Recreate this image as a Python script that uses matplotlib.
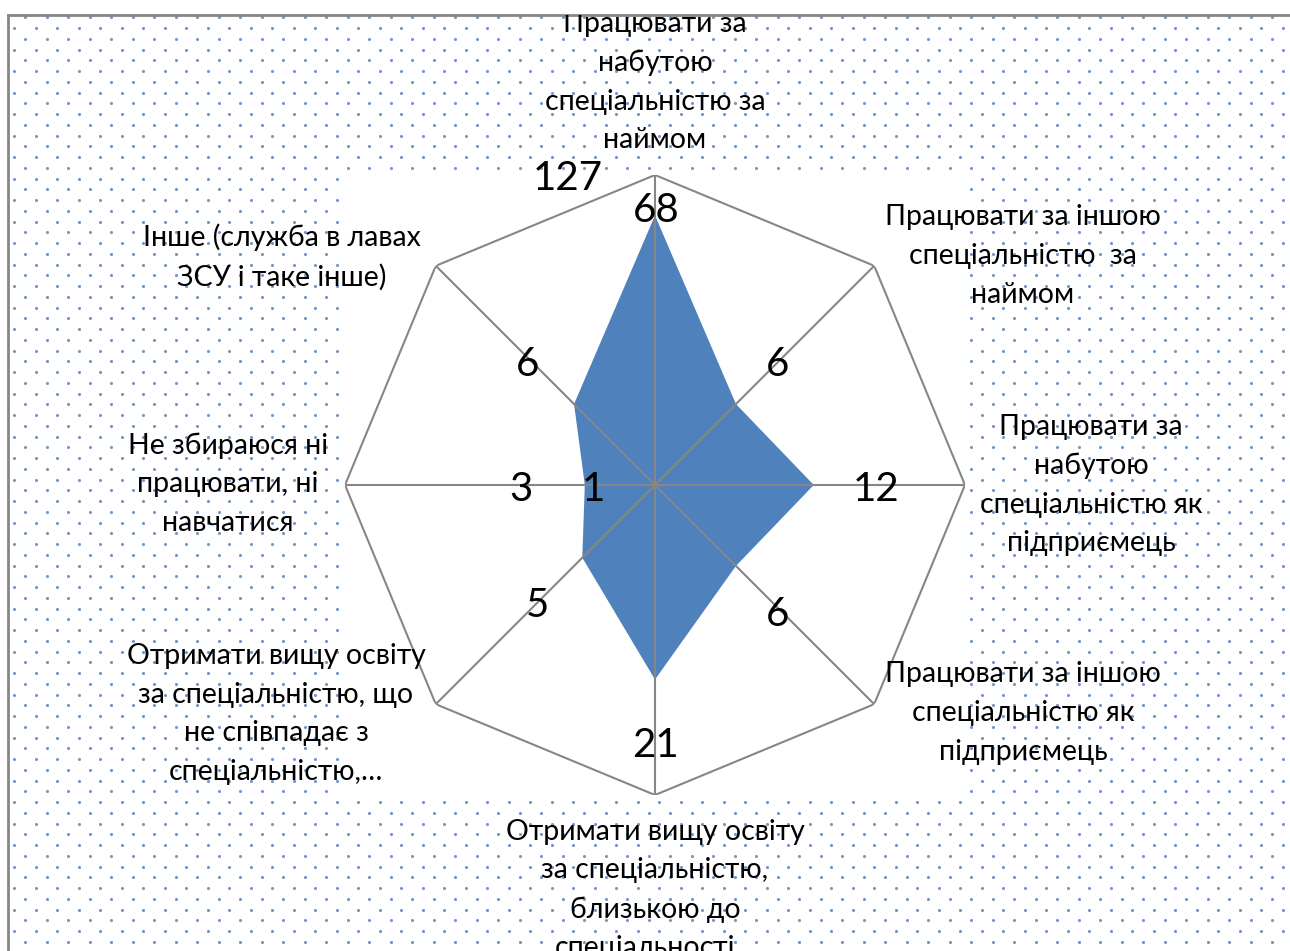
import numpy as np
import matplotlib
matplotlib.use("Agg")
import matplotlib.pyplot as plt

plt.rcParams['font.family'] = ['Lato', 'Noto Sans', 'DejaVu Sans']

# ---------------- data ----------------
categories = [
    "Працювати за\nнабутою\nспеціальністю за\nнаймом",
    "Працювати за іншою\nспеціальністю  за\nнаймом",
    "Працювати за\nнабутою\nспеціальністю як\nпідприємець",
    "Працювати за іншою\nспеціальністю як\nпідприємець",
    "Отримати вищу освіту\nза спеціальністю,\nблизькою до\nспеціальності...",
    "Отримати вищу освіту\nза спеціальністю, що\nне співпадає з\nспеціальністю,…",
    "Не збираюся ні\nпрацювати, ні\nнавчатися",
    "Інше (служба в лавах\nЗСУ і таке інше)",
]
values = [68, 6, 12, 6, 21, 5, 3, 6]
value_labels = ["68", "6", "12", "6", "21", "5", "3", "6"]
extra_labels = ["127", "1"]
extra_values = [127, 1]
extra_cat_index = [0, 6]
r_min, r_max = 1, 128

# ---------------- layout / style ----------------
W, H = 1290, 951
fig = plt.figure(figsize=(W / 100, H / 100), dpi=100)
fig.patch.set_facecolor("white")

# chart area (below/right of the border)
cx0, cy0 = 8, 15
chart_rect = [cx0 / W, 0, (W - cx0) / W, (H - cy0) / H]

# background with dotted pattern
bg = fig.add_axes(chart_rect)
bg.set_xlim(cx0, W)
bg.set_ylim(H, cy0)
bg.set_xticks([]); bg.set_yticks([])
for s in ["right", "bottom"]:
    bg.spines[s].set_visible(False)
for s in ["top", "left"]:
    bg.spines[s].set_color("#868686")
    bg.spines[s].set_linewidth(2.0)
rows = np.arange(17.3, H + 5, 10.75)
xs_all, ys_all = [], []
for i, y in enumerate(rows):
    start = 25.0 if i % 2 == 0 else 14.0
    xs = np.arange(start, W + 5, 21.5)
    xs_all.append(xs)
    ys_all.append(np.full_like(xs, y))
bg.scatter(np.concatenate(xs_all), np.concatenate(ys_all), s=5, color="#5585C4",
           alpha=0.85, linewidths=0, zorder=1)

# plot area: white square around the octagon
ccx, ccy, R = 655, 485, 310
pa_rect = [(ccx - R) / W, (H - ccy - R) / H, 2 * R / W, 2 * R / H]
wa = fig.add_axes(pa_rect)
wa.set_facecolor("white")
wa.set_xticks([]); wa.set_yticks([])
for s in wa.spines.values():
    s.set_visible(False)

# radar (log-2 radial scale, like Excel)
ax = fig.add_axes(pa_rect, projection="polar")
ax.set_facecolor("none")
ax.set_theta_zero_location("N")
ax.set_theta_direction(-1)
ax.set_rscale("log", base=2)
ax.set_rlim(r_min, r_max)
ax.grid(False)
ax.set_xticks([]); ax.set_yticks([])
ax.spines["polar"].set_visible(False)

n = len(categories)
angles = np.arange(n) * 2 * np.pi / n
ang_closed = np.append(angles, angles[0])
vals_closed = np.append(values, values[0])

ax.fill(ang_closed, vals_closed, color="#4F81BD", lw=0, zorder=2)
grid_col = "#868686"
for a in angles:
    ax.plot([a, a], [r_min, r_max], color=grid_col, lw=1.5, zorder=3)
ax.plot(ang_closed, [r_max] * (n + 1), color=grid_col, lw=1.5, zorder=3)
ax.set_rlim(r_min, r_max)

# data labels
lab_offsets = [(1, -7), (42, 28), (62, -16), (42, -60), (0, -77), (-45, -59),
               (-64, -16), (-46, 28)]
lab_fs = 29
for a, v, t, off in zip(angles, values, value_labels, lab_offsets):
    ax.annotate(t, xy=(a, v), xytext=off, textcoords="offset pixels",
                ha="center", va="baseline", fontsize=lab_fs, color="black",
                zorder=5, annotation_clip=False)
extra_offsets = [(-87, -14), (-62, -16)]
for t, v, ci, off in zip(extra_labels, extra_values, extra_cat_index, extra_offsets):
    ax.annotate(t, xy=(angles[ci], v), xytext=off, textcoords="offset pixels",
                ha="center", va="baseline", fontsize=lab_fs, color="black",
                zorder=5, annotation_clip=False)

# category labels (overlay, clipped to chart area)
ov = fig.add_axes(chart_rect)
ov.set_xlim(cx0, W)
ov.set_ylim(H, cy0)
ov.axis("off")
cat_pos = [(655, 82), (1023, 256), (1091, 485), (1023, 713),
           (655, 890), (276, 714), (228, 484), (282, 257)]
for txt, (x, y) in zip(categories, cat_pos):
    ov.text(x, y, txt, ha="center", va="center", multialignment="center",
            fontsize=20.5, linespacing=1.6, color="black", clip_on=True)

fig.savefig("out.png", dpi=100)
